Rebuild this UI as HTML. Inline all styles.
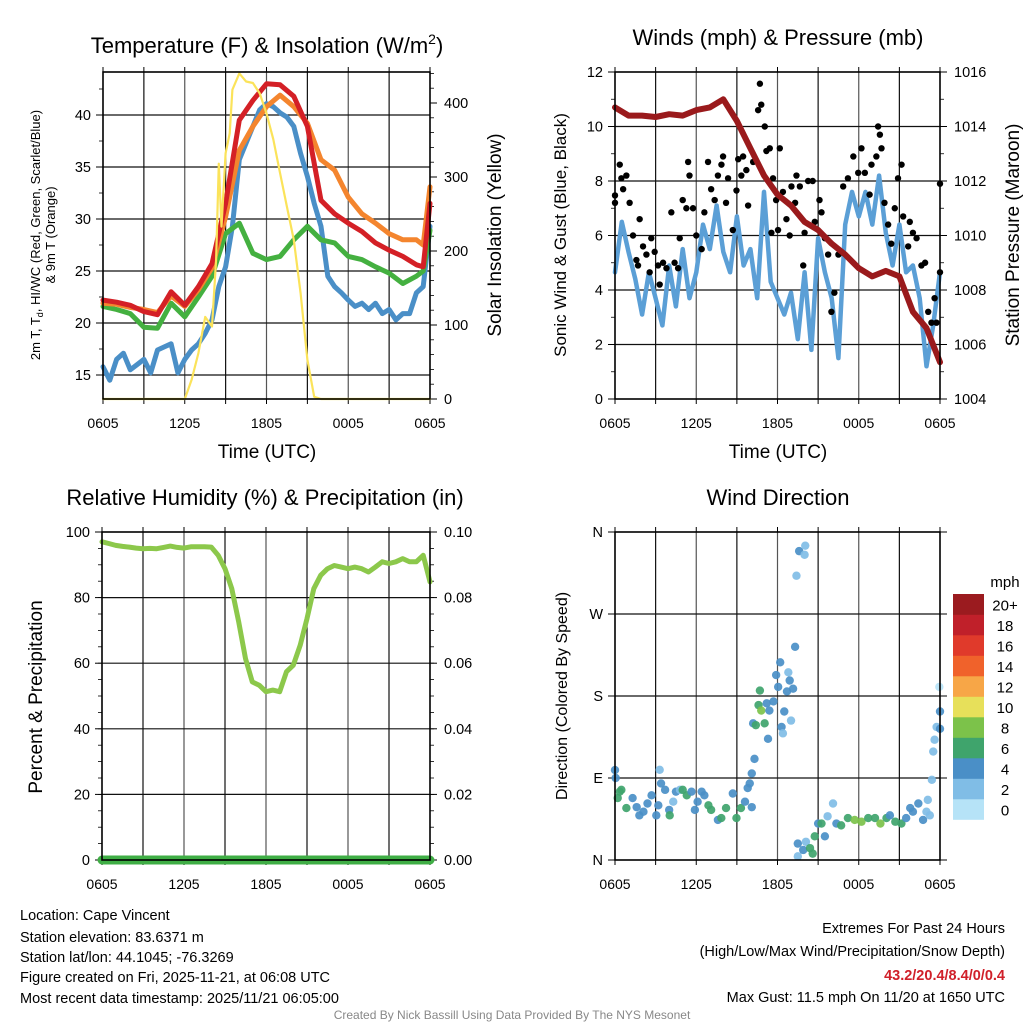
<!DOCTYPE html>
<html><head><meta charset="utf-8"><title>Cape Vincent Meteogram</title>
<style>
html,body{margin:0;padding:0;background:#fff;}
svg{display:block;font-family:"Liberation Sans",Arial,sans-serif;}
</style></head>
<body>
<svg id="chart" width="1024" height="1024" viewBox="0 0 1024 1024" xmlns="http://www.w3.org/2000/svg">
<rect x="0" y="0" width="1024" height="1024" fill="#fff"/>
<text x="267" y="53" font-size="22" text-anchor="middle">Temperature (F) &amp; Insolation (W/m<tspan font-size="14" dy="-9">2</tspan><tspan dy="9">)</tspan></text>
<text x="778" y="45" font-size="22" text-anchor="middle">Winds (mph) &amp; Pressure (mb)</text>
<text x="265" y="505" font-size="22" text-anchor="middle">Relative Humidity (%) &amp; Precipitation (in)</text>
<text x="778" y="505" font-size="22" text-anchor="middle">Wind Direction</text>

<text transform="translate(40,235) rotate(-90)" font-size="13" text-anchor="middle">2m T, T<tspan font-size="9" dy="3">d</tspan><tspan dy="-3">, HI/WC (Red, Green, Scarlet/Blue)</tspan></text>
<text transform="translate(55,235) rotate(-90)" font-size="13" text-anchor="middle">&amp; 9m T (Orange)</text>
<text transform="translate(501,235) rotate(-90)" font-size="19" text-anchor="middle">Solar Insolation (Yellow)</text>
<text x="267" y="458" font-size="19" text-anchor="middle">Time (UTC)</text>

<text transform="translate(566,235) rotate(-90)" font-size="17" text-anchor="middle">Sonic Wind &amp; Gust (Blue, Black)</text>
<text transform="translate(1019,235) rotate(-90)" font-size="19" text-anchor="middle">Station Pressure (Maroon)</text>
<text x="778" y="458" font-size="19" text-anchor="middle">Time (UTC)</text>

<text transform="translate(42,697) rotate(-90)" font-size="19" text-anchor="middle">Percent &amp; Precipitation</text>
<text transform="translate(567,696) rotate(-90)" font-size="16" text-anchor="middle">Direction (Colored By Speed)</text>
<text x="1005" y="587" font-size="15" text-anchor="middle">mph</text>

<g font-size="14.5">
<text x="20" y="920">Location: Cape Vincent</text>
<text x="20" y="942">Station elevation: 83.6371 m</text>
<text x="20" y="962">Station lat/lon: 44.1045; -76.3269</text>
<text x="20" y="982">Figure created on Fri, 2025-11-21, at 06:08 UTC</text>
<text x="20" y="1003">Most recent data timestamp: 2025/11/21 06:05:00</text>
<text x="1005" y="933" text-anchor="end">Extremes For Past 24 Hours</text>
<text x="1005" y="956" text-anchor="end">(High/Low/Max Wind/Precipitation/Snow Depth)</text>
<text x="1005" y="980" text-anchor="end" fill="#d0202a" font-weight="bold">43.2/20.4/8.4/0/0.4</text>
<text x="1005" y="1002" text-anchor="end">Max Gust: 11.5 mph On 11/20 at 1650 UTC</text>
</g>
<text x="512" y="1019" font-size="12" fill="#888" text-anchor="middle">Created By Nick Bassill Using Data Provided By The NYS Mesonet</text>
</svg>
<script>
// ---------- DATA ----------
const xTickLabels = ["0605","1205","1805","0005","0605"];
const tempTimes = [0,1,2,3,4,5,6,7,8,9,10,11,12,13,14,15,16,17,18,19,20,21,22,23,23.5,24];
const temp2m = [22.2,22.0,21.7,21.1,20.8,23.0,21.7,23.5,25.7,31.5,39.5,41.4,43.0,42.9,41.8,38.9,31.8,30.5,29.6,28.8,27.7,27.0,26.4,25.6,25.4,31.5];
const temp9m = [21.9,21.8,21.5,21.3,21.0,22.6,21.6,23.2,25.3,30.2,36.6,38.9,40.8,41.9,40.8,39.2,35.7,34.7,32.1,30.5,29.6,28.6,28.0,28.0,27.5,33.1];
const dewpoint = [21.6,21.3,20.9,19.6,19.5,21.9,20.6,22.5,24.5,28.6,29.6,26.7,26.1,26.4,28.0,29.3,28.0,27.7,26.4,26.1,25.4,24.8,23.8,24.5,25.0,28.9];
const windChill = [15.8,14.5,16.5,17.1,15.5,16.0,16.5,15.2,17.4,17.7,18.0,15.2,16.5,17.4,18.0,19.0,20.3,23.5,25.4,29.3,35.7,37.3,38.9,40.5,41.1,40.8,40.2,39.8,38.9,36.3,34.1,31.5,29.3,24.5,23.5,22.9,22.2,21.6,21.9,21.3,21.9,20.9,21.3,20.3,20.9,20.9,22.9,23.5,29.3];
const solarTimes = [0,6,6.5,7,7.5,8,8.3,8.5,8.7,9,9.3,9.5,10,10.5,11,11.5,12,12.5,13,13.5,14,14.5,15,15.5,16,24];
const solarValues = [0,0,26,62,111,98,188,318,233,332,359,418,440,429,427,413,386,351,305,260,215,143,53,3,0,0];
const tempTicks = [15,20,25,30,35,40];
const solarTicks = [0,100,200,300,400];

const windSpeed = [4.65,6.5,5.4,4.4,3.1,4.65,3.7,2.7,4.9,3.4,5.5,3.7,4.65,6.4,5.5,7.1,5.4,4.65,6.7,4.9,5.5,3.7,7.6,4.3,3.7,3.1,3.9,2.2,4.65,1.8,5.9,4.65,3.7,1.5,6.4,7.6,6.7,7.6,6.4,8.2,6.1,4.9,6.4,4.65,4.9,3.7,1.2,2.7,4.65];
const pressure = [1014.7,1014.4,1014.4,1014.35,1014.45,1014.4,1014.6,1014.7,1015.0,1014.2,1013.2,1012.2,1011.5,1011.1,1010.5,1010.2,1009.7,1009.3,1008.8,1008.5,1008.7,1008.5,1007.2,1006.6,1005.35];
const gustTimes = [0,0,0.35,0.47,0.6,0.84,1.08,1.33,1.58,1.7,1.82,2.07,2.32,2.56,2.68,2.93,3.18,3.3,3.55,3.8,4.16,4.4,4.66,4.78,5.0,5.27,5.4,5.5,5.76,6.0,6.4,6.6,6.87,7.1,7.36,7.6,7.86,7.98,8.2,8.35,8.7,8.97,9.1,9.33,9.46,9.7,9.83,10.2,10.57,10.7,10.8,11.06,11.18,11.43,11.55,11.67,11.9,12.04,12.17,12.4,12.66,12.9,13.03,13.3,13.4,13.65,13.9,14.0,14.26,14.6,14.75,15.1,15.25,15.5,15.74,15.98,16.2,16.5,16.85,17.2,17.6,17.96,18.2,18.45,18.8,18.94,19.3,19.43,19.56,19.68,19.9,20.17,20.4,20.66,20.9,21.16,21.28,21.65,21.77,22.0,22.27,22.63,22.9,23.13,23.37,23.6,23.74,24.0,24.0];
const gustValues = [7.47,7.2,8.6,8.1,7.7,8.2,7.2,6.0,5.1,4.9,6.6,5.6,5.3,4.65,5.9,5.4,4.9,4.2,5.0,4.8,6.85,5.0,4.8,5.9,7.3,7.0,8.7,8.2,7.0,6.0,5.5,6.85,8.7,7.7,7.3,8.2,8.6,8.9,7.2,8.1,6.2,7.65,8.8,8.2,8.9,8.4,7.1,8.7,10.6,11.57,10.8,10.0,9.1,9.2,6.1,8.1,7.3,6.2,9.2,7.6,6.6,6.0,7.8,7.2,8.2,7.8,4.9,6.1,8.0,8.0,6.5,7.3,6.85,5.9,5.3,3.2,3.9,5.3,7.8,8.1,8.9,8.3,9.2,8.3,7.5,8.6,8.9,10.0,9.7,9.2,7.2,6.4,5.7,7.0,8.1,8.6,6.7,5.6,6.5,6.1,5.9,4.9,5.0,3.2,2.8,3.7,2.8,4.65,7.9];
const windTicks = [0,2,4,6,8,10,12];
const pressureTicks = [1004,1006,1008,1010,1012,1014,1016];

const rhValues = [97,96.5,95.9,95.6,95.4,95.1,94.9,95.0,94.9,95.3,95.7,95.3,95.1,95.5,95.5,95.5,95.4,92.9,88.8,82.7,72.6,61.4,54.3,53.3,51.3,51.8,51.3,57.4,59.4,65.5,73.6,82.7,86.8,88.8,89.8,89.3,88.8,89.3,88.8,87.8,89.3,90.9,90.4,90.9,91.9,90.9,90.9,92.9,84.8];
const precipTimes = [0,24];
const precipValues = [0,0];
const rhTicks = [0,20,40,60,80,100];
const precipTicks = ["0.00","0.02","0.04","0.06","0.08","0.10"];

const dirTimes = [0,0.05,0.35,0.47,0.2,0.84,1.3,1.6,1.8,2.1,2.4,2.7,3.05,3.2,3.3,3.4,3.7,4.0,4.04,4.3,4.5,4.8,5.0,5.3,5.65,5.9,6.1,6.4,6.6,6.9,7.1,7.6,7.85,8.2,8.7,8.97,9.3,9.6,9.8,10.1,9.95,10.1,10.3,10.2,10.4,10.6,10.7,10.8,11.05,11.2,11.3,11.4,11.7,11.9,12.05,12.2,12.3,12.4,12.5,12.7,12.8,12.9,13.0,13.15,13.3,13.4,13.6,14.0,14.05,13.5,13.5,13.9,14.1,14.4,14.6,14.75,15.0,15.25,15.5,15.7,16.1,16.35,16.7,17.2,17.7,18.2,18.7,19.2,19.6,20.05,20.3,20.7,21.15,21.5,21.8,22.0,22.4,22.75,23.0,23.1,23.25,23.4,23.5,23.6,23.75,24.0,24.0,23.95];
const dirValues = [98.7,90,75,77,68,57,68,58,49,53,62,71,49,60,99,84,77,55,49,64,75,77,77,71,75,55,64,75,71,60,55,44,46,57,73,46,57,64,79,58,84,95,111,150,148,170,186,164,150,172,133,164,174,203,190,217,146,139,163,185,206,197,153,188,234,312,339,335,345,18,4,11,20,13,7,26,40,40,26,48,62,40,38,46,44,42,46,46,40,46,49,42,40,46,57,53,62,44,53,66,49,88,119,132,146,163,144,190];
const dirSpeeds = [4,4,6,6,6,6,4,4,4,4,4,4,4,4,2,4,4,4,6,2,4,2,6,6,4,4,4,4,4,6,6,4,6,6,4,6,6,4,4,4,4,4,4,4,6,6,6,8,6,4,4,4,4,4,4,4,4,2,4,4,2,4,2,4,4,2,4,2,2,4,2,4,2,6,6,6,4,6,4,2,2,4,6,6,8,8,6,6,8,6,4,6,6,4,4,4,4,4,2,2,2,2,2,2,2,4,4,1];
const dirTickLabels = ["N","E","S","W","N"];
const speedBins = ["0","2","4","6","8","10","12","14","16","18","20+"];
const speedColors = ["#b6e3f7","#80bde6","#4a8fc7","#3fa46c","#7cc24a","#e7e05a","#f7a647","#f0622b","#e03a2b","#c0202a","#9b1b1f"];

// ---------- HELPERS ----------
const NS = "http://www.w3.org/2000/svg";
const svg = document.getElementById("chart");
function mk(tag, attrs, name, parent) {
  const el = document.createElementNS(NS, tag);
  for (const k in attrs) el.setAttribute(k, attrs[k]);
  
  
  (parent || svg).appendChild(el);
  return el;
}
function txt(x, y, s, size, anchor, name) {
  const el = mk("text", {x: x, y: y, "font-size": size, "text-anchor": anchor}, name);
  el.textContent = s;
  return el;
}
function linScale(d0, d1, r0, r1) { return v => r0 + (v - d0) / (d1 - d0) * (r1 - r0); }
function polyline(xs, ys, fx, fy, color, w, name) {
  const pts = xs.map((t, i) => fx(t).toFixed(1) + "," + fy(ys[i]).toFixed(1)).join(" ");
  return mk("polyline", {points: pts, fill: "none", stroke: color, "stroke-width": w, "stroke-linejoin": "round", "stroke-linecap": "round"}, name);
}
function halfHours(n) { const a = []; for (let i = 0; i < n; i++) a.push(i * 0.5); return a; }
function hours(n) { const a = []; for (let i = 0; i < n; i++) a.push(i); return a; }

function frame(p, prefix) {
  const fx = linScale(0, 24, p.x0, p.x1);
  for (let h = 3; h < 24; h += 3) {
    mk("line", {x1: fx(h), x2: fx(h), y1: p.y0, y2: p.y1, stroke: (h % 6 === 0) ? "#555" : "#111", "stroke-width": 1.2}, prefix + "-vgrid");
  }
  for (let h = 0; h <= 24; h += 3) {
    mk("line", {x1: fx(h), x2: fx(h), y1: p.y1, y2: p.y1 + 5, stroke: "#000", "stroke-width": 1}, prefix + "-x-tick");
    mk("line", {x1: fx(h), x2: fx(h), y1: p.y0, y2: p.y0 - 5, stroke: "#000", "stroke-width": 1}, prefix + "-x-tick-top");
  }
  xTickLabels.forEach((s, i) => txt(fx(i * 6), p.y1 + 29, s, 14, "middle", prefix + "-x-label"));
  return fx;
}
function leftAxis(p, fy, ticks, labels, minorStep, lo, hi, prefix, grid) {
  ticks.forEach((v, i) => {
    const y = fy(v);
    if (grid && y > p.y0 + 1 && y < p.y1 - 1) mk("line", {x1: p.x0, x2: p.x1, y1: y, y2: y, stroke: "#111", "stroke-width": 1.2}, prefix + "-hgrid");
    mk("line", {x1: p.x0 - 7, x2: p.x0, y1: y, y2: y, stroke: "#000", "stroke-width": 1}, prefix + "-left-tick");
    txt(p.x0 - 12, y + 5, labels[i], 14.5, "end", prefix + "-left-label");
  });
  if (minorStep) for (let v = lo; v <= hi + 1e-9; v += minorStep) {
    const y = fy(v);
    if (y >= p.y0 && y <= p.y1) mk("line", {x1: p.x0 - 4, x2: p.x0, y1: y, y2: y, stroke: "#000", "stroke-width": 0.8}, prefix + "-left-minor");
  }
}
function rightAxis(p, fy, ticks, labels, minorStep, lo, hi, prefix) {
  ticks.forEach((v, i) => {
    const y = fy(v);
    mk("line", {x1: p.x1, x2: p.x1 + 7, y1: y, y2: y, stroke: "#000", "stroke-width": 1}, prefix + "-right-tick");
    txt(p.x1 + 14, y + 5, labels[i], 14.5, "start", prefix + "-right-label");
  });
  if (minorStep) for (let v = lo; v <= hi + 1e-9; v += minorStep) {
    const y = fy(v);
    if (y >= p.y0 && y <= p.y1) mk("line", {x1: p.x1, x2: p.x1 + 4, y1: y, y2: y, stroke: "#000", "stroke-width": 0.8}, prefix + "-right-minor");
  }
}
function border(p, name) {
  mk("rect", {x: p.x0, y: p.y0, width: p.x1 - p.x0, height: p.y1 - p.y0, fill: "none", stroke: "#000", "stroke-width": 1.6}, name);
}

// ---------- PANEL 1: TEMPERATURE ----------
const p1 = {x0: 103, x1: 430, y0: 72, y1: 399};
const f1x = frame(p1, "temp");
const f1y = linScale(15, 40, 375, 115);
const f1s = linScale(0, 400, 399, 103);
leftAxis(p1, f1y, tempTicks, tempTicks.map(String), 2.5, 12.5, 45, "temp", true);
rightAxis(p1, f1s, solarTicks, solarTicks.map(String), 20, 0, 440, "solar");
polyline(halfHours(windChill.length), windChill, f1x, f1y, "#4a8fc7", 5, "wind-chill-line");
polyline(tempTimes, dewpoint, f1x, f1y, "#44b040", 5, "dewpoint-line");
polyline(tempTimes, temp9m, f1x, f1y, "#f4852e", 5, "temp-9m-line");
polyline(tempTimes, temp2m, f1x, f1y, "#d42026", 5, "temp-2m-line");
polyline(solarTimes, solarValues, f1x, f1s, "#fbe35a", 2.2, "solar-line");
border(p1, "temp-plot-border");

// ---------- PANEL 2: WIND & PRESSURE ----------
const p2 = {x0: 615, x1: 940, y0: 72, y1: 399};
const f2x = frame(p2, "wind");
const f2y = linScale(0, 12, 399, 72);
const f2p = linScale(1004, 1016, 399, 72);
leftAxis(p2, f2y, windTicks, windTicks.map(String), 1, 0, 12, "wind", true);
rightAxis(p2, f2p, pressureTicks, pressureTicks.map(String), 1, 1004, 1016, "pressure");
polyline(halfHours(windSpeed.length), windSpeed, f2x, f2y, "#5b9fd6", 4.5, "wind-speed-line");
gustTimes.forEach((t, i) => {
  mk("circle", {cx: f2x(t), cy: f2y(gustValues[i]), r: 3.2, fill: "#000"}, "gust-point");
});
polyline(hours(pressure.length), pressure, f2x, f2p, "#9a1a1c", 6, "pressure-line");
border(p2, "wind-plot-border");

// ---------- PANEL 3: HUMIDITY ----------
const p3 = {x0: 102, x1: 430, y0: 532, y1: 860};
const f3x = frame(p3, "rh");
const f3y = linScale(0, 100, 860, 532);
const f3p = linScale(0, 0.1, 860, 532);
leftAxis(p3, f3y, rhTicks, rhTicks.map(String), 5, 0, 100, "rh", true);
rightAxis(p3, f3y, rhTicks, precipTicks, 5, 0, 100, "precip");
polyline(halfHours(rhValues.length), rhValues, f3x, f3y, "#8cc84b", 5, "rh-line");
polyline(precipTimes, precipValues, f3x, f3p, "#3fae45", 9, "precip-line");
border(p3, "rh-plot-border");

// ---------- PANEL 4: WIND DIRECTION ----------
const p4 = {x0: 615, x1: 940, y0: 532, y1: 860};
const f4x = frame(p4, "dir");
const f4y = linScale(0, 360, 860, 532);
leftAxis(p4, f4y, [0, 90, 180, 270, 360], dirTickLabels, 0, 0, 0, "dir", true);
rightAxis(p4, f4y, [0, 90, 180, 270, 360], ["", "", "", "", ""], 0, 0, 0, "dir-r");
dirTimes.forEach((t, i) => {
  const bin = Math.min(10, Math.floor(dirSpeeds[i] / 2));
  mk("circle", {cx: f4x(t), cy: f4y(dirValues[i]), r: 4.2, fill: speedColors[bin], "fill-opacity": 0.92}, "direction-point");
});
border(p4, "dir-plot-border");

// colorbar
const cbTop = 594, cbH = 20.5;
speedBins.forEach((s, i) => {
  const k = speedBins.length - 1 - i;
  const y = cbTop + k * cbH;
  mk("rect", {x: 953, y: y, width: 31, height: cbH + 0.3, fill: speedColors[i]}, "colorbar-swatch");
  txt(1005, y + cbH / 2 + 6, s, 15, "middle", "colorbar-label");
});
</script>
</body></html>
